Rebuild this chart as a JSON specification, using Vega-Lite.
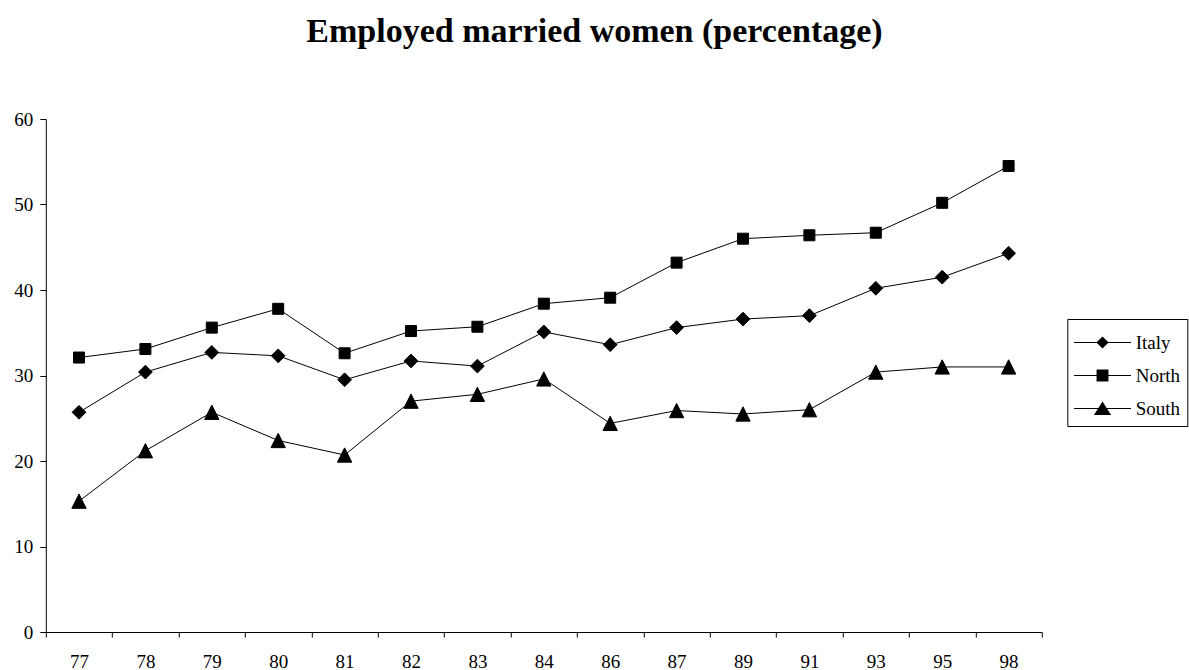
{
  "$schema": "https://vega.github.io/schema/vega-lite/v6.json",
  "width": 996,
  "height": 513,
  "autosize": {"type": "none"},
  "padding": {"left": 45.8, "top": 119, "right": 147.2, "bottom": 38},
  "background": "white",
  "title": {"text": "Employed married women (percentage)", "font": "Liberation Serif", "fontSize": 34, "fontWeight": "bold", "color": "black", "anchor": "middle", "frame": "group", "dx": 50.7, "baseline": "alphabetic", "offset": 34},
  "data": {"values": [
    {"year": "77", "series": "Italy", "value": 25.7},
    {"year": "78", "series": "Italy", "value": 30.4},
    {"year": "79", "series": "Italy", "value": 32.7},
    {"year": "80", "series": "Italy", "value": 32.3},
    {"year": "81", "series": "Italy", "value": 29.5},
    {"year": "82", "series": "Italy", "value": 31.7},
    {"year": "83", "series": "Italy", "value": 31.1},
    {"year": "84", "series": "Italy", "value": 35.1},
    {"year": "86", "series": "Italy", "value": 33.6},
    {"year": "87", "series": "Italy", "value": 35.6},
    {"year": "89", "series": "Italy", "value": 36.6},
    {"year": "91", "series": "Italy", "value": 37.0},
    {"year": "93", "series": "Italy", "value": 40.2},
    {"year": "95", "series": "Italy", "value": 41.5},
    {"year": "98", "series": "Italy", "value": 44.3},
    {"year": "77", "series": "North", "value": 32.1},
    {"year": "78", "series": "North", "value": 33.1},
    {"year": "79", "series": "North", "value": 35.6},
    {"year": "80", "series": "North", "value": 37.8},
    {"year": "81", "series": "North", "value": 32.6},
    {"year": "82", "series": "North", "value": 35.2},
    {"year": "83", "series": "North", "value": 35.7},
    {"year": "84", "series": "North", "value": 38.4},
    {"year": "86", "series": "North", "value": 39.1},
    {"year": "87", "series": "North", "value": 43.2},
    {"year": "89", "series": "North", "value": 46.0},
    {"year": "91", "series": "North", "value": 46.4},
    {"year": "93", "series": "North", "value": 46.7},
    {"year": "95", "series": "North", "value": 50.2},
    {"year": "98", "series": "North", "value": 54.5},
    {"year": "77", "series": "South", "value": 15.3},
    {"year": "78", "series": "South", "value": 21.2},
    {"year": "79", "series": "South", "value": 25.7},
    {"year": "80", "series": "South", "value": 22.4},
    {"year": "81", "series": "South", "value": 20.7},
    {"year": "82", "series": "South", "value": 27.0},
    {"year": "83", "series": "South", "value": 27.8},
    {"year": "84", "series": "South", "value": 29.6},
    {"year": "86", "series": "South", "value": 24.4},
    {"year": "87", "series": "South", "value": 25.9},
    {"year": "89", "series": "South", "value": 25.5},
    {"year": "91", "series": "South", "value": 26.0},
    {"year": "93", "series": "South", "value": 30.4},
    {"year": "95", "series": "South", "value": 31.0},
    {"year": "98", "series": "South", "value": 31.0}
  ]},
  "encoding": {
    "x": {
      "field": "year", "type": "ordinal", "sort": null,
      "scale": {"type": "band", "paddingInner": 0, "paddingOuter": 0},
      "axis": {"title": null, "labelAngle": 0, "tickBand": "extent", "grid": false, "domainColor": "black", "domainWidth": 1, "tickColor": "black", "tickWidth": 1, "tickSize": 5, "labelFont": "Liberation Serif", "labelFontSize": 19, "labelColor": "black", "labelPadding": 15}
    },
    "y": {
      "field": "value", "type": "quantitative",
      "scale": {"domain": [0, 60], "nice": false},
      "axis": {"title": null, "values": [0, 10, 20, 30, 40, 50, 60], "grid": false, "domainColor": "black", "domainWidth": 1, "tickColor": "black", "tickWidth": 1, "tickSize": 6, "labelFont": "Liberation Serif", "labelFontSize": 19, "labelColor": "black", "labelPadding": 7}
    }
  },
  "layer": [
    {
      "mark": {"type": "line", "color": "black", "strokeWidth": 1},
      "encoding": {"detail": {"field": "series", "type": "nominal"}}
    },
    {
      "mark": {"type": "point", "filled": true, "color": "black", "stroke": "black", "strokeWidth": 1, "opacity": 1, "size": 121},
      "encoding": {
        "shape": {
          "field": "series", "type": "nominal",
          "scale": {"domain": ["Italy", "North", "South"], "range": ["M-1.25,0L0,-1.25L1.25,0L0,1.25Z", "M-1,-1L1,-1L1,1L-1,1Z", "M0,-1.3L1.3,1.3L-1.3,1.3Z"]},
          "legend": null
        }
      }
    },
    {
      "mark": {"type": "point", "filled": true, "color": "black", "stroke": "black", "strokeWidth": 1, "opacity": 1, "size": 0},
      "encoding": {
        "shape": {
          "field": "series", "type": "nominal",
          "scale": {"domain": ["Italy", "North", "South"], "range": [
            "M-1.727,-0.03L1.727,-0.03L1.727,0.03L-1.727,0.03ZM-0.37,0L0,-0.37L0.37,0L0,0.37Z",
            "M-1.727,-0.03L1.727,-0.03L1.727,0.03L-1.727,0.03ZM-0.36,-0.36L0.36,-0.36L0.36,0.36L-0.36,0.36Z",
            "M-1.727,-0.03L1.727,-0.03L1.727,0.03L-1.727,0.03ZM0,-0.42L0.52,0.4L-0.52,0.4Z"
          ]},
          "legend": {
            "title": null,
            "orient": "none",
            "legendX": 1021.5,
            "legendY": 200,
            "padding": 7,
            "strokeColor": "black",
            "fillColor": "white",
            "cornerRadius": 0,
            "rowPadding": 6,
            "symbolSize": 1089,
            "symbolOffset": 11.7,
            "labelOffset": 16.7,
            "symbolFillColor": "black",
            "symbolStrokeColor": "black",
            "symbolStrokeWidth": 0,
            "symbolOpacity": 1,
            "labelFont": "Liberation Serif",
            "labelFontSize": 19,
            "labelColor": "black"
          }
        }
      }
    }
  ],
  "resolve": {"scale": {"shape": "independent"}, "legend": {"shape": "independent"}},
  "config": {"view": {"stroke": null}}
}
